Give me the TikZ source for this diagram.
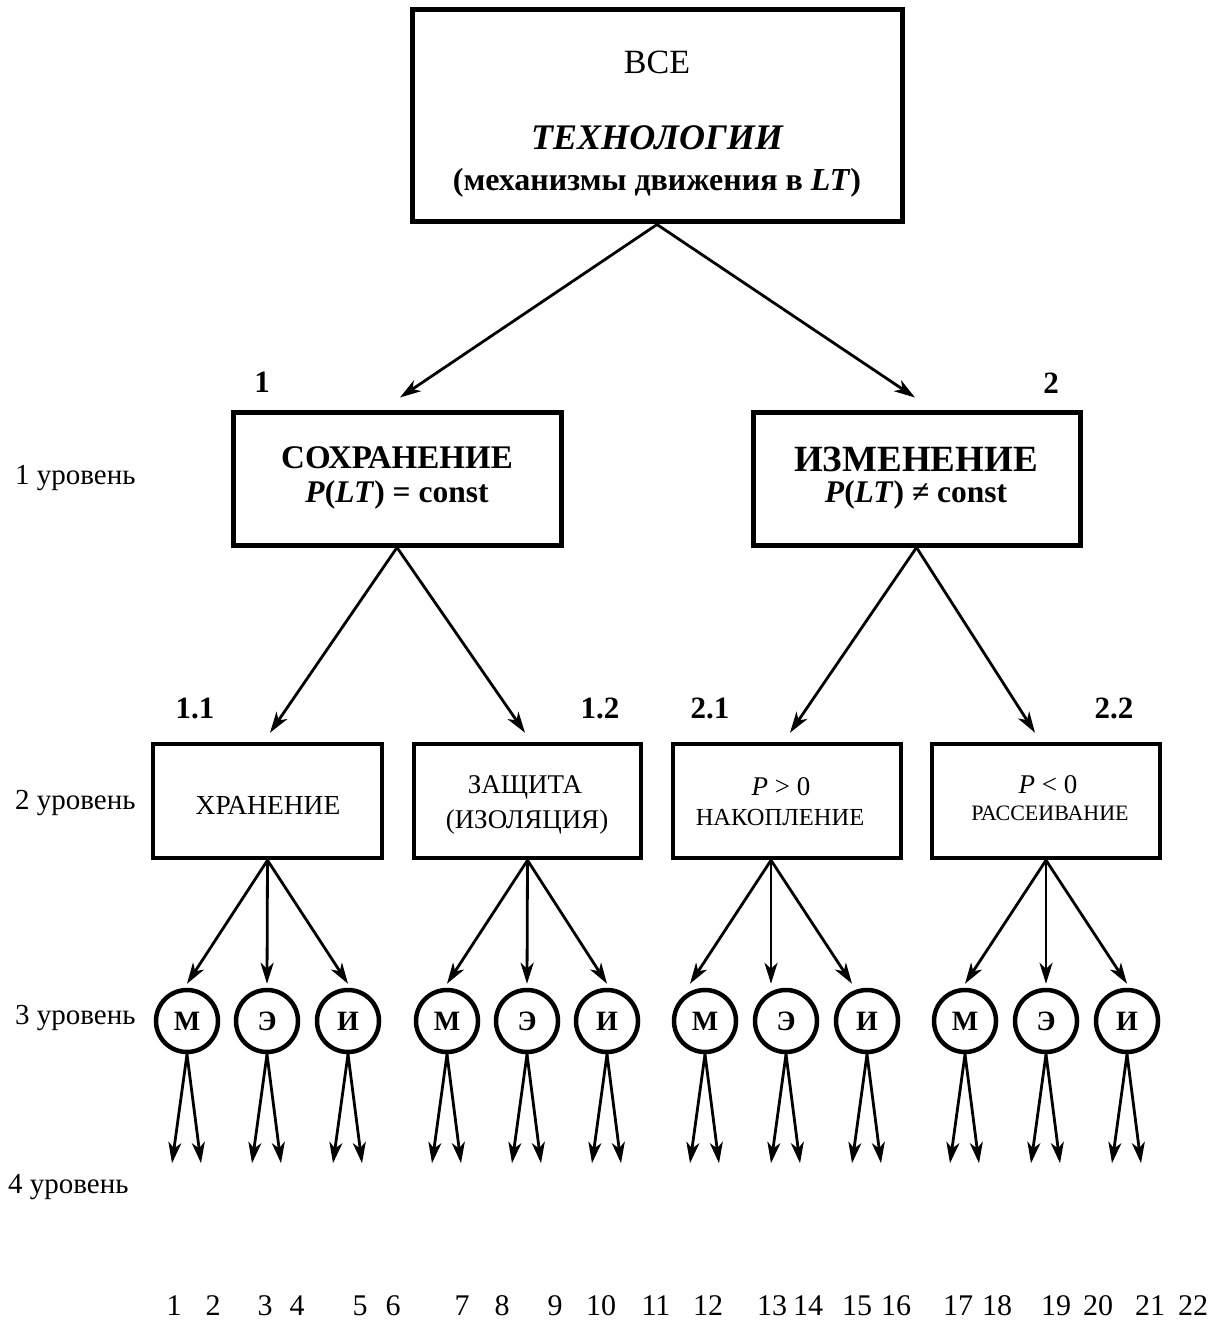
\documentclass[tikz,border=0pt]{standalone}
\usepackage{fontspec}
\setmainfont{Liberation Serif}
\usetikzlibrary{arrows.meta,calc}
\begin{document}
\begin{tikzpicture}[x=1pt,y=-1pt,
  box/.style={draw, line width=5pt, inner sep=0pt},
  sbox/.style={draw, line width=4.5pt, inner sep=0pt, minimum height=114pt},
  circ/.style={draw, circle, line width=4.5pt, minimum size=62pt, inner sep=0pt, font=\fontsize{28}{28}\selectfont\bfseries},
  arr/.style={line width=2.8pt, -{Stealth[length=21pt,width=13pt,inset=6pt]}},
  txt/.style={inner sep=0pt, anchor=center},
  lvl/.style={anchor=west, inner sep=0pt, font=\fontsize{29}{29}\selectfont},
  num/.style={inner sep=0pt, font=\fontsize{31}{31}\selectfont\bfseries},
  bnum/.style={inner sep=0pt, font=\fontsize{30}{30}\selectfont},
]
\useasboundingbox (0,0) rectangle (1227,1321);
% top box
\node[box, minimum width=490pt, minimum height=212pt] (top) at (657,116) {};
\node[txt, font=\fontsize{34}{34}\selectfont] (tA) at (657,62) {ВСЕ};
\node[txt, font=\fontsize{36}{36}\selectfont\bfseries\itshape] (tB) at (657,138) {ТЕХНОЛОГИИ};
\node[txt, font=\fontsize{32}{32}\selectfont\bfseries] (tC) at (657,183) {(механизмы движения в \textit{LT})};
% level 1
\node[box, minimum width=328pt, minimum height=133pt] (L1) at (397,478.5) {};
\node[box, minimum width=327pt, minimum height=133pt] (L2) at (916.5,478.5) {};
\node[txt, font=\fontsize{33}{33}\selectfont\bfseries] (L1a) at (397,458) {СОХРАНЕНИЕ};
\node[txt, font=\fontsize{31.5}{31.5}\selectfont\bfseries] (L1b) at (397,495) {\textit{P}(\textit{LT}) = const};
\node[txt, font=\fontsize{37}{37}\selectfont\bfseries] (L2a) at (916,459) {ИЗМЕНЕНИЕ};
\node[txt, font=\fontsize{31.5}{31.5}\selectfont\bfseries] (L2b) at (916,495) {\textit{P}(\textit{LT}) ≠ const};
\node[num] (n1) at (262,382) {1};
\node[num] (n2) at (1051,383) {2};
% level 2
\node[sbox, minimum width=229pt] (B11) at (267.5,801) {};
\node[sbox, minimum width=227pt] (B12) at (527.5,801) {};
\node[sbox, minimum width=228pt] (B21) at (787,801) {};
\node[sbox, minimum width=228pt] (B22) at (1046,801) {};
\node[txt, font=\fontsize{27.5}{27.5}\selectfont] (B11a) at (268,805) {ХРАНЕНИЕ};
\node[txt, font=\fontsize{27}{27}\selectfont] (B12a) at (525,787) {ЗАЩИТА};
\node[txt, font=\fontsize{27}{27}\selectfont] (B12b) at (527,822) {(ИЗОЛЯЦИЯ)};
\node[txt, font=\fontsize{27}{27}\selectfont] (B21a) at (781,787) {\textit{P} > 0};
\node[txt, font=\fontsize{24.5}{24.5}\selectfont] (B21b) at (780,817) {НАКОПЛЕНИЕ};
\node[txt, font=\fontsize{27}{27}\selectfont] (B22a) at (1048,785) {\textit{P} < 0};
\node[txt, font=\fontsize{22}{22}\selectfont] (B22b) at (1050,813) {РАССЕИВАНИЕ};
\node[num] (n11) at (195,708) {1.1};
\node[num] (n12) at (600,708) {1.2};
\node[num] (n21) at (710,708) {2.1};
\node[num] (n22) at (1114,708) {2.2};
% level labels
\node[lvl] (lv1) at (15,478) {1 уровень};
\node[lvl] (lv2) at (15,803) {2 уровень};
\node[lvl] (lv3) at (15,1018) {3 уровень};
\node[lvl] (lv4) at (8,1187) {4 уровень};
% circles
\foreach \n/\x/\l in {m1/187/М, e1/267/Э, i1/348/И, m2/447/М, e2/527/Э, i2/607/И,
  m3/705/М, e3/786/Э, i3/867/И, m4/965/М, e4/1046/Э, i4/1127/И}{
  \node[circ] (\n) at (\x,1021) {\l};
  \draw[arr] (\n.south) -- ($(\n.south)+(-15,109)$);
  \draw[arr] (\n.south) -- ($(\n.south)+(14,109)$);
}
% arrows top
\draw[arr] (top.south) -- ($(L1.north)+(3,-12)$);
\draw[arr] (top.south) -- ($(L2.north)+(-1.5,-12)$);
% arrows level 1 -> 2
\draw[arr] (L1.south) -- ($(B11.north)+(2.5,-9)$);
\draw[arr] (L1.south) -- ($(B12.north)+(-2.5,-9)$);
\draw[arr] (L2.south) -- ($(B21.north)+(3,-9)$);
\draw[arr] (L2.south) -- ($(B22.north)+(-11,-9)$);
% arrows level 2 -> 3
\coordinate (o11) at (B11.south);
\coordinate (o12) at (B12.south);
\coordinate (o21) at ($(B21.south)+(-16,0)$);
\coordinate (o22) at (B22.south);
\foreach \o/\a/\b/\c/\s in {o11/m1/e1/i1/0, o12/m2/e2/i2/0, o21/m3/e3/i3/-15, o22/m4/e4/i4/0}{
  \draw[arr] (\o) -- ($(\a.north)+(\s,-4)$);
  \draw[arr] (\o) -- ($(\b.north)+(\s,-4)$);
  \draw[arr] (\o) -- ($(\c.north)+(\s,-4)$);
}
% bottom numbers
\foreach \k/\x in {1/174, 2/213, 3/265, 4/297, 5/360, 6/393, 7/462, 8/502, 9/555, 10/601, 11/656,
  12/708, 13/772, 14/808, 15/857, 16/896, 17/958, 18/997, 19/1056, 20/1098, 21/1150, 22/1193}{
  \node[bnum] (b\k) at (\x,1306) {\k};
}
\end{tikzpicture}
\end{document}
